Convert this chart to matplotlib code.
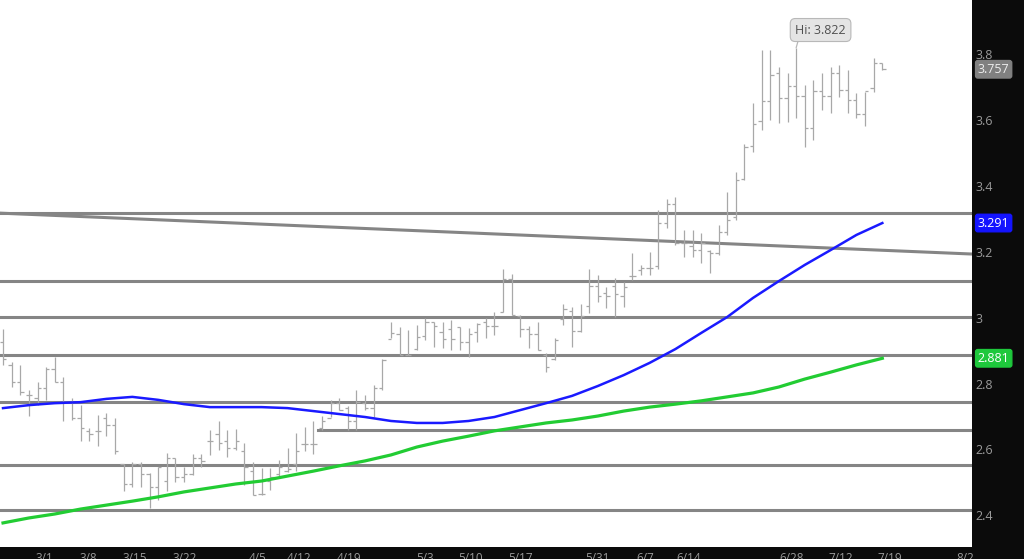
import numpy as np
import matplotlib.pyplot as plt

plt.rcParams['font.family'] = ['Open Sans', 'DejaVu Sans']

# daily OHLC bars (one per trading day, March - July)
opens = [2.93, 2.86, 2.81, 2.77, 2.76, 2.79, 2.85, 2.81, 2.75, 2.70,
         2.66, 2.66, 2.70, 2.68, 2.56, 2.50, 2.56, 2.53, 2.49, 2.51,
         2.58, 2.52, 2.53, 2.58, 2.63, 2.65, 2.63, 2.61, 2.60, 2.54,
         2.47, 2.51, 2.53, 2.54, 2.56, 2.62, 2.62, 2.67, 2.70, 2.745,
         2.73, 2.69, 2.745, 2.73, 2.79, 2.94, 2.955, 2.89, 2.91, 2.95,
         2.99, 2.96, 2.97, 2.975, 2.93, 2.96, 2.99, 2.98, 3.022, 3.12,
         3.01, 2.97, 2.955, 2.89, 2.88, 3.00, 3.025, 2.965, 3.04, 3.10,
         3.08, 3.10, 3.07, 3.13, 3.15, 3.155, 3.16, 3.29, 3.35, 3.23,
         3.22, 3.21, 3.205, 3.20, 3.265, 3.31, 3.425, 3.525, 3.60, 3.66,
         3.745, 3.67, 3.705, 3.675, 3.58, 3.69, 3.675, 3.745, 3.695, 3.665,
         3.62, 3.70, 3.775]
highs = [2.97, 2.87, 2.86, 2.785, 2.81, 2.855, 2.886, 2.825, 2.76, 2.74,
         2.67, 2.71, 2.715, 2.70, 2.56, 2.567, 2.567, 2.532, 2.55, 2.595,
         2.58, 2.553, 2.59, 2.59, 2.664, 2.69, 2.664, 2.666, 2.623, 2.567,
         2.547, 2.547, 2.572, 2.608, 2.655, 2.674, 2.69, 2.705, 2.755, 2.76,
         2.735, 2.785, 2.77, 2.80, 2.878, 2.992, 2.977, 2.967, 2.982, 3.002,
         2.992, 2.992, 2.997, 2.977, 2.972, 2.987, 3.002, 3.022, 3.153, 3.138,
         3.012, 2.98, 2.992, 2.896, 2.941, 3.047, 3.035, 3.047, 3.153, 3.133,
         3.098, 3.123, 3.113, 3.199, 3.164, 3.204, 3.33, 3.365, 3.37, 3.27,
         3.27, 3.26, 3.21, 3.285, 3.386, 3.446, 3.532, 3.654, 3.815, 3.815,
         3.765, 3.745, 3.822, 3.709, 3.725, 3.745, 3.765, 3.77, 3.755, 3.684,
         3.689, 3.79, 3.775]
lows = [2.86, 2.795, 2.77, 2.705, 2.74, 2.755, 2.81, 2.69, 2.695, 2.63,
        2.63, 2.615, 2.645, 2.59, 2.48, 2.49, 2.49, 2.426, 2.45, 2.48,
        2.507, 2.507, 2.527, 2.553, 2.588, 2.603, 2.583, 2.603, 2.497, 2.467,
        2.467, 2.482, 2.517, 2.537, 2.54, 2.60, 2.59, 2.664, 2.704, 2.724,
        2.664, 2.664, 2.724, 2.704, 2.785, 2.942, 2.891, 2.891, 2.906, 2.937,
        2.916, 2.911, 2.906, 2.906, 2.886, 2.931, 2.941, 2.951, 3.022, 3.012,
        2.946, 2.911, 2.906, 2.84, 2.876, 2.982, 2.916, 2.962, 3.017, 3.052,
        3.032, 3.007, 3.037, 3.118, 3.133, 3.133, 3.153, 3.275, 3.224, 3.189,
        3.189, 3.17, 3.14, 3.194, 3.254, 3.30, 3.421, 3.507, 3.573, 3.603,
        3.593, 3.598, 3.608, 3.522, 3.542, 3.634, 3.624, 3.674, 3.624, 3.608,
        3.585, 3.689, 3.755]
closes = [2.88, 2.81, 2.78, 2.77, 2.79, 2.85, 2.81, 2.75, 2.70, 2.67,
          2.65, 2.66, 2.68, 2.60, 2.50, 2.56, 2.53, 2.49, 2.55, 2.58,
          2.52, 2.53, 2.58, 2.57, 2.63, 2.625, 2.61, 2.63, 2.55, 2.467,
          2.47, 2.52, 2.55, 2.545, 2.60, 2.62, 2.62, 2.69, 2.745, 2.725,
          2.69, 2.75, 2.73, 2.79, 2.875, 2.957, 2.89, 2.89, 2.947, 2.99,
          2.98, 2.94, 2.94, 2.93, 2.955, 2.985, 2.98, 2.98, 3.12, 3.012,
          2.97, 2.955, 2.906, 2.855, 2.935, 3.03, 2.965, 3.01, 3.10, 3.07,
          3.07, 3.075, 3.096, 3.13, 3.155, 3.155, 3.29, 3.35, 3.23, 3.23,
          3.21, 3.23, 3.20, 3.265, 3.30, 3.42, 3.52, 3.59, 3.66, 3.74,
          3.67, 3.705, 3.675, 3.58, 3.69, 3.675, 3.745, 3.695, 3.665, 3.62,
          3.69, 3.775, 3.757]

# moving averages, read every 3 bars
ma_idx = list(range(0, 103, 3))
ma_blue = [2.730, 2.739, 2.745, 2.748, 2.758, 2.764, 2.755, 2.742, 2.733,
           2.733, 2.733, 2.730, 2.721, 2.712, 2.703, 2.691, 2.685, 2.685,
           2.691, 2.703, 2.724, 2.745, 2.767, 2.797, 2.830, 2.867, 2.909,
           2.958, 3.006, 3.064, 3.115, 3.164, 3.209, 3.255, 3.291]
ma_green = [2.382, 2.397, 2.409, 2.424, 2.436, 2.448, 2.461, 2.476, 2.488,
            2.500, 2.509, 2.524, 2.539, 2.555, 2.570, 2.588, 2.612, 2.630,
            2.645, 2.661, 2.673, 2.685, 2.694, 2.706, 2.721, 2.733, 2.742,
            2.752, 2.764, 2.776, 2.794, 2.818, 2.839, 2.861, 2.881]

levels = [3.321, 3.115, 3.006, 2.891, 2.748, 2.558, 2.421]
short_level = 2.664
short_level_start = 36.5
trend_left, trend_right = 3.321, 3.197

tick_pos = [4.8, 9.9, 15.3, 21.1, 29.5, 34.3, 40.1, 49.0, 54.2, 60.0,
            69.0, 74.5, 79.5, 91.5, 97.2, 102.9, 111.6]
tick_labels = ['3/1', '3/8', '3/15', '3/22', '4/5', '4/12', '4/19', '5/3',
               '5/10', '5/17', '5/31', '6/7', '6/14', '6/28', '7/12', '7/19', '8/2']
y_ticks = [2.4, 2.6, 2.8, 3.0, 3.2, 3.4, 3.6, 3.8]

fig = plt.figure(figsize=(10.24, 5.59), dpi=100, facecolor='#0b0b0b')
ax = fig.add_axes([0, 12 / 559, 972 / 1024, 547 / 559])
ax.set_facecolor('white')
xmin, xmax = -0.35, 112.4
ax.set_xlim(xmin, xmax)
ax.set_ylim(2.309, 3.967)

# support / resistance lines
for lv in levels:
    ax.axhline(lv, color='#858585', lw=2.2, zorder=1)
ax.plot([short_level_start, xmax], [short_level, short_level], color='#858585', lw=2.2, zorder=1)
ax.plot([xmin, xmax], [trend_left, trend_right], color='#858585', lw=2.2, zorder=1)

# OHLC bars
x = np.arange(len(opens))
bar_c = '#a8a8a8'
ax.vlines(x, lows, highs, color=bar_c, lw=0.9, zorder=2)
ax.hlines(opens, x - 0.38, x, color=bar_c, lw=0.9, zorder=2)
ax.hlines(closes, x, x + 0.38, color=bar_c, lw=0.9, zorder=2)

# moving averages
ax.plot(ma_idx, ma_blue, color='#1a1aff', lw=1.8, zorder=3)
ax.plot(ma_idx, ma_green, color='#22cc33', lw=2.3, zorder=3)

# high callout
hi_i = int(np.argmax(highs))
ax.annotate('Hi: %.3f' % highs[hi_i], xy=(hi_i, highs[hi_i]), xytext=(hi_i - 0.1, 3.876),
            fontsize=9, color='#505050', ha='left', va='center', zorder=5,
            bbox=dict(boxstyle='round,pad=0.4', fc='#e4e4e4', ec='#b8b8b8', lw=0.8),
            arrowprops=dict(arrowstyle='-', color='#b8b8b8', lw=0.9, shrinkA=0, shrinkB=0,
                            relpos=(0.08, 0.0)))

# x axis labels (cut by the bottom edge like the original)
ax.set_xticks(tick_pos)
ax.set_xticklabels(tick_labels, fontsize=8.5, color='#9a9a9a')
ax.tick_params(axis='x', length=0, pad=3.5)
ax.set_yticks([])
for s in ax.spines.values():
    s.set_visible(False)

# right price scale
tr = ax.get_yaxis_transform()
for t in y_ticks:
    ax.text(1.004, t, ('%g' % t), transform=tr, fontsize=9, color='#9a9a9a',
            ha='left', va='center', clip_on=False)

tags = [(closes[-1], '#808080', '#eeeeee'),
        (ma_blue[-1], '#1414ff', 'white'),
        (ma_green[-1], '#1ec83c', 'white')]
for val, bg, fg in tags:
    ax.text(1.006, val, '%.3f' % val, transform=tr, fontsize=9, color=fg,
            ha='left', va='center', clip_on=False, zorder=6,
            bbox=dict(boxstyle='round,pad=0.18', fc=bg, ec=bg))

fig.savefig('out.png', dpi=100, facecolor=fig.get_facecolor())
